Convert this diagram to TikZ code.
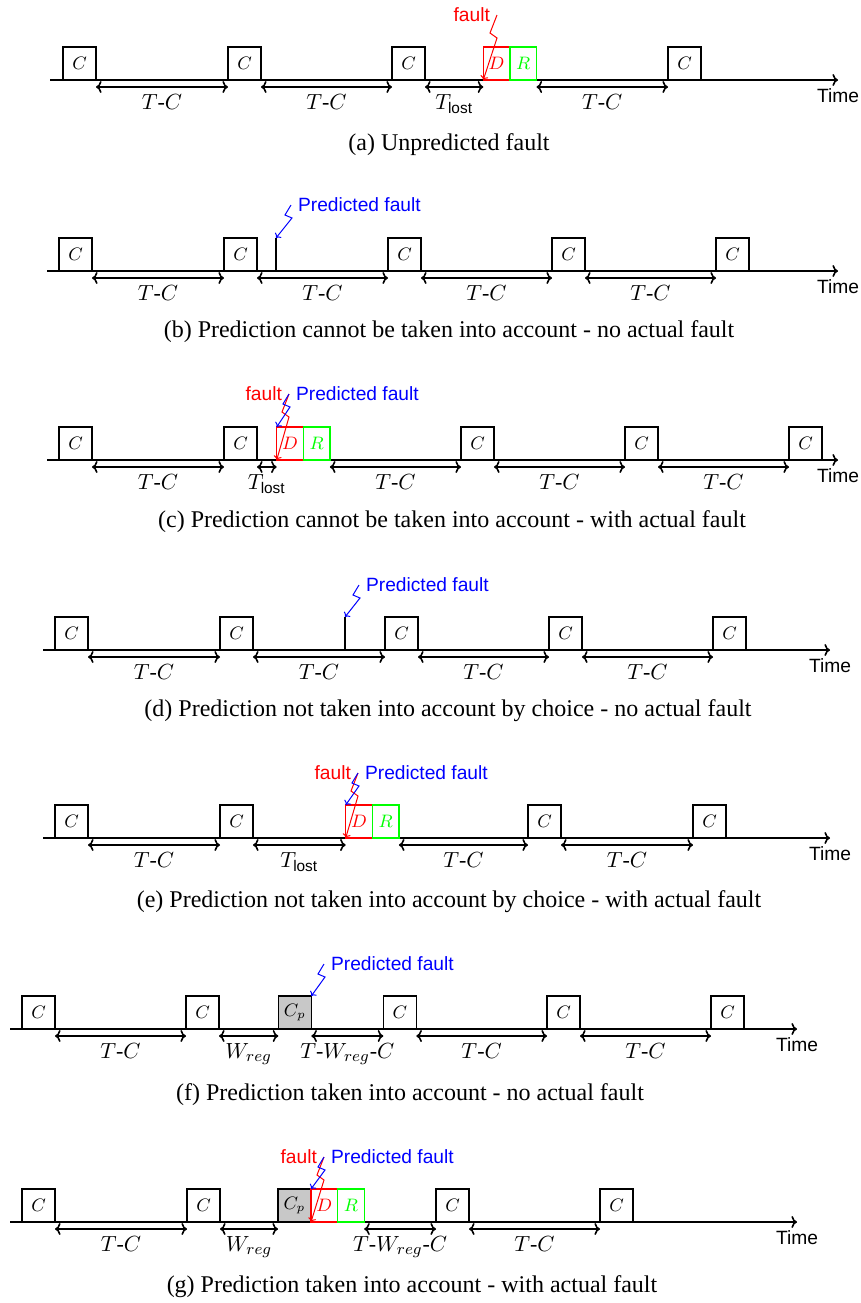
\documentclass[tikz,border=0pt]{standalone}
\usepackage{amsmath}
\usepackage{fontspec}
\setmainfont{Liberation Serif}
\setsansfont{Liberation Sans}
\usetikzlibrary{arrows.meta}
\definecolor{cpgray}{RGB}{200,200,200}
\definecolor{fred}{RGB}{255,0,0}
\definecolor{fgreen}{RGB}{0,255,0}
\definecolor{fblue}{RGB}{0,0,255}
\tikzset{
  cbox/.style={draw, line width=0.65pt, minimum width=16.5pt, minimum height=16.5pt, inner sep=0pt, outer sep=0pt, anchor=south west, font=\fontsize{8.7}{9}\selectfont},
  dbox/.style={cbox, draw=fred, text=fred, minimum width=13.3pt},
  rbox/.style={cbox, draw=fgreen, text=fgreen, minimum width=13.3pt},
  cpbox/.style={cbox, fill=cpgray},
  axisline/.style={line width=0.8pt, -{To[length=2.8pt,width=6pt]}},
  spanarrow/.style={line width=0.8pt, {To[length=2.8pt,width=6pt]}-{To[length=2.8pt,width=6pt]}},
  lbl/.style={midway, below, font=\fontsize{11}{12}\selectfont},
  timelbl/.style={below, yshift=-0.5pt, font=\sffamily\fontsize{9.6}{10}\selectfont},
  fltarrow/.style={draw=fred, line width=0.5pt, -{To[length=2pt,width=4pt]}},
  pfltarrow/.style={draw=fblue, line width=0.5pt, -{To[length=2pt,width=4pt]}},
  flttxt/.style={left, text=fred, font=\sffamily\fontsize{9.6}{10}\selectfont},
  pflttxt/.style={right, text=fblue, font=\sffamily\fontsize{9.6}{10}\selectfont},
  ticklin/.style={line width=0.65pt},
  captxt/.style={font=\fontsize{12}{14}\selectfont},
}
\newcommand{\TC}{$T\textrm{-}C$}
\newcommand{\Tlost}{$T_{\textsf{lost}}$}
\newcommand{\Wreg}{$W_{reg}$}
\newcommand{\TWC}{$T\textrm{-}W_{reg}\textrm{-}C$}
\begin{document}
\begin{tikzpicture}[x=0.5pt,y=-0.5pt]
\useasboundingbox (0,0) rectangle (861,1303);

% ---------- (a) ----------
\coordinate (a0) at (50,80);
\coordinate (ae) at (838,80);
\draw[axisline] (a0) -- (ae) node[timelbl] (atime) {Time};
\node[cbox] (a1) at (63,80) {$C$};
\node[cbox] (a2) at (228,80) {$C$};
\node[cbox] (a3) at (392,80) {$C$};
\node[dbox] (aD) at (483.3,80) {$D$};
\node[rbox] (aR) at (aD.south east) {$R$};
\node[cbox] (a4) at (668,80) {$C$};
\draw[spanarrow] ([yshift=-3.5pt]a1.south east) -- ([yshift=-3.5pt]a2.south west) node[lbl] {\TC};
\draw[spanarrow] ([yshift=-3.5pt]a2.south east) -- ([yshift=-3.5pt]a3.south west) node[lbl] {\TC};
\draw[spanarrow] ([yshift=-3.5pt]a3.south east) -- ([yshift=-3.5pt]aD.south west) node[lbl] {\Tlost};
\draw[spanarrow] ([yshift=-3.5pt]aR.south east) -- ([yshift=-3.5pt]a4.south west) node[lbl] {\TC};
\coordinate (aS) at (497,15);
\draw[fltarrow] (aS) -- ++(-7,18) -- ++(7,5) -- (aD.south west);
\node[flttxt] (aft) at (aS) {fault};
\node[captxt] (capa) at (449,145) {(a) Unpredicted fault};

% ---------- (b) ----------
\coordinate (b0) at (47,271);
\coordinate (be) at (838,271);
\draw[axisline] (b0) -- (be) node[timelbl] (btime) {Time};
\node[cbox] (b1) at (59,271) {$C$};
\node[cbox] (b2) at (224,271) {$C$};
\node[cbox] (b3) at (388,271) {$C$};
\node[cbox] (b4) at (552,271) {$C$};
\node[cbox] (b5) at (716,271) {$C$};
\coordinate (bTb) at (276,271);
\coordinate (bTt) at (276,238);
\draw[ticklin] (bTb) -- (bTt);
\draw[spanarrow] ([yshift=-3.5pt]b1.south east) -- ([yshift=-3.5pt]b2.south west) node[lbl] {\TC};
\draw[spanarrow] ([yshift=-3.5pt]b2.south east) -- ([yshift=-3.5pt]b3.south west) node[lbl] {\TC};
\draw[spanarrow] ([yshift=-3.5pt]b3.south east) -- ([yshift=-3.5pt]b4.south west) node[lbl] {\TC};
\draw[spanarrow] ([yshift=-3.5pt]b4.south east) -- ([yshift=-3.5pt]b5.south west) node[lbl] {\TC};
\coordinate (bS) at (291,205);
\draw[pfltarrow] (bS) -- ++(-6,10) -- ++(7,3) -- (bTt);
\node[pflttxt] (bpt) at (bS) {Predicted fault};
\node[captxt] (capb) at (449,332) {(b) Prediction cannot be taken into account - no actual fault};

% ---------- (c) ----------
\coordinate (c0) at (47,460);
\coordinate (ce) at (838,460);
\draw[axisline] (c0) -- (ce) node[timelbl] (ctime) {Time};
\node[cbox] (c1) at (59,460) {$C$};
\node[cbox] (c2) at (224,460) {$C$};
\node[dbox] (cD) at (276.7,460) {$D$};
\node[rbox] (cR) at (cD.south east) {$R$};
\node[cbox] (c3) at (461,460) {$C$};
\node[cbox] (c4) at (625,460) {$C$};
\node[cbox] (c5) at (789,460) {$C$};
\draw[spanarrow] ([yshift=-3.5pt]c1.south east) -- ([yshift=-3.5pt]c2.south west) node[lbl] {\TC};
\draw[spanarrow] ([yshift=-3.5pt]c2.south east) -- ([yshift=-3.5pt]cD.south west) node[lbl] {\Tlost};
\draw[spanarrow] ([yshift=-3.5pt]cR.south east) -- ([yshift=-3.5pt]c3.south west) node[lbl] {\TC};
\draw[spanarrow] ([yshift=-3.5pt]c3.south east) -- ([yshift=-3.5pt]c4.south west) node[lbl] {\TC};
\draw[spanarrow] ([yshift=-3.5pt]c4.south east) -- ([yshift=-3.5pt]c5.south west) node[lbl] {\TC};
\coordinate (cS) at (289,394);
\draw[fltarrow] (cS) -- ++(-7,18) -- ++(7,5) -- (cD.south west);
\draw[pfltarrow] (cS) -- ++(-6,10) -- ++(7,3) -- (cD.north west);
\node[flttxt] (cft) at (cS) {fault};
\node[pflttxt] (cpt) at (cS) {Predicted fault};
\node[captxt] (capc) at (452,522) {(c) Prediction cannot be taken into account - with actual fault};

% ---------- (d) ----------
\coordinate (d0) at (43,650);
\coordinate (de) at (830,650);
\draw[axisline] (d0) -- (de) node[timelbl] (dtime) {Time};
\node[cbox] (d1) at (55,650) {$C$};
\node[cbox] (d2) at (220,650) {$C$};
\node[cbox] (d3) at (385,650) {$C$};
\node[cbox] (d4) at (549,650) {$C$};
\node[cbox] (d5) at (713,650) {$C$};
\coordinate (dTb) at (345,650);
\coordinate (dTt) at (345,617);
\draw[ticklin] (dTb) -- (dTt);
\draw[spanarrow] ([yshift=-3.5pt]d1.south east) -- ([yshift=-3.5pt]d2.south west) node[lbl] {\TC};
\draw[spanarrow] ([yshift=-3.5pt]d2.south east) -- ([yshift=-3.5pt]d3.south west) node[lbl] {\TC};
\draw[spanarrow] ([yshift=-3.5pt]d3.south east) -- ([yshift=-3.5pt]d4.south west) node[lbl] {\TC};
\draw[spanarrow] ([yshift=-3.5pt]d4.south east) -- ([yshift=-3.5pt]d5.south west) node[lbl] {\TC};
\coordinate (dS) at (359,585);
\draw[pfltarrow] (dS) -- ++(-6,10) -- ++(7,3) -- (dTt);
\node[pflttxt] (dpt) at (dS) {Predicted fault};
\node[captxt] (capd) at (448,711) {(d) Prediction not taken into account by choice - no actual fault};

% ---------- (e) ----------
\coordinate (e0) at (43,838);
\coordinate (ee) at (830,838);
\draw[axisline] (e0) -- (ee) node[timelbl] (etime) {Time};
\node[cbox] (e1) at (55,838) {$C$};
\node[cbox] (e2) at (220,838) {$C$};
\node[dbox] (eD) at (345.7,838) {$D$};
\node[rbox] (eR) at (eD.south east) {$R$};
\node[cbox] (e3) at (528,838) {$C$};
\node[cbox] (e4) at (693,838) {$C$};
\draw[spanarrow] ([yshift=-3.5pt]e1.south east) -- ([yshift=-3.5pt]e2.south west) node[lbl] {\TC};
\draw[spanarrow] ([yshift=-3.5pt]e2.south east) -- ([yshift=-3.5pt]eD.south west) node[lbl] {\Tlost};
\draw[spanarrow] ([yshift=-3.5pt]eR.south east) -- ([yshift=-3.5pt]e3.south west) node[lbl] {\TC};
\draw[spanarrow] ([yshift=-3.5pt]e3.south east) -- ([yshift=-3.5pt]e4.south west) node[lbl] {\TC};
\coordinate (eS) at (358,773);
\draw[fltarrow] (eS) -- ++(-7,18) -- ++(7,5) -- (eD.south west);
\draw[pfltarrow] (eS) -- ++(-6,10) -- ++(7,3) -- (eD.north west);
\node[flttxt] (eft) at (eS) {fault};
\node[pflttxt] (ept) at (eS) {Predicted fault};
\node[captxt] (cape) at (449,902) {(e) Prediction not taken into account by choice - with actual fault};

% ---------- (f) ----------
\coordinate (f0) at (10,1029);
\coordinate (fe) at (797,1029);
\draw[axisline] (f0) -- (fe) node[timelbl] (ftime) {Time};
\node[cbox] (f1) at (22,1029) {$C$};
\node[cbox] (f2) at (186,1029) {$C$};
\node[cpbox] (fP) at (278.3,1029) {$C_p$};
\node[cbox] (f3) at (383.3,1029) {$C$};
\node[cbox] (f4) at (547,1029) {$C$};
\node[cbox] (f5) at (711,1029) {$C$};
\draw[spanarrow] ([yshift=-3.5pt]f1.south east) -- ([yshift=-3.5pt]f2.south west) node[lbl] {\TC};
\draw[spanarrow] ([yshift=-3.5pt]f2.south east) -- ([yshift=-3.5pt]fP.south west) node[lbl] {\Wreg};
\draw[spanarrow] ([yshift=-3.5pt]fP.south east) -- ([yshift=-3.5pt]f3.south west) node[lbl] {\TWC};
\draw[spanarrow] ([yshift=-3.5pt]f3.south east) -- ([yshift=-3.5pt]f4.south west) node[lbl] {\TC};
\draw[spanarrow] ([yshift=-3.5pt]f4.south east) -- ([yshift=-3.5pt]f5.south west) node[lbl] {\TC};
\coordinate (fS) at (324,964);
\draw[pfltarrow] (fS) -- ++(-6,10) -- ++(7,3) -- (fP.north east);
\node[pflttxt] (fpt) at (fS) {Predicted fault};
\node[captxt] (capf) at (410,1095) {(f) Prediction taken into account - no actual fault};

% ---------- (g) ----------
\coordinate (g0) at (10,1222);
\coordinate (ge) at (797,1222);
\draw[axisline] (g0) -- (ge) node[timelbl] (gtime) {Time};
\node[cbox] (g1) at (22,1222) {$C$};
\node[cbox] (g2) at (187,1222) {$C$};
\node[cpbox] (gP) at (278,1222) {$C_p$};
\node[dbox] (gD) at (gP.south east) {$D$};
\node[rbox] (gR) at (gD.south east) {$R$};
\node[cbox] (g3) at (436,1222) {$C$};
\node[cbox] (g4) at (600,1222) {$C$};
\draw[spanarrow] ([yshift=-3.5pt]g1.south east) -- ([yshift=-3.5pt]g2.south west) node[lbl] {\TC};
\draw[spanarrow] ([yshift=-3.5pt]g2.south east) -- ([yshift=-3.5pt]gP.south west) node[lbl] {\Wreg};
\draw[spanarrow] ([yshift=-3.5pt]gR.south east) -- ([yshift=-3.5pt]g3.south west) node[lbl] {\TWC};
\draw[spanarrow] ([yshift=-3.5pt]g3.south east) -- ([yshift=-3.5pt]g4.south west) node[lbl] {\TC};
\coordinate (gS) at (324,1157);
\draw[fltarrow] (gS) -- ++(-7,18) -- ++(7,5) -- (gD.south west);
\draw[pfltarrow] (gS) -- ++(-6,10) -- ++(7,3) -- (gD.north west);
\node[flttxt] (gft) at (gS) {fault};
\node[pflttxt] (gpt) at (gS) {Predicted fault};
\node[captxt] (capg) at (412,1287) {(g) Prediction taken into account - with actual fault};
\end{tikzpicture}
\end{document}
